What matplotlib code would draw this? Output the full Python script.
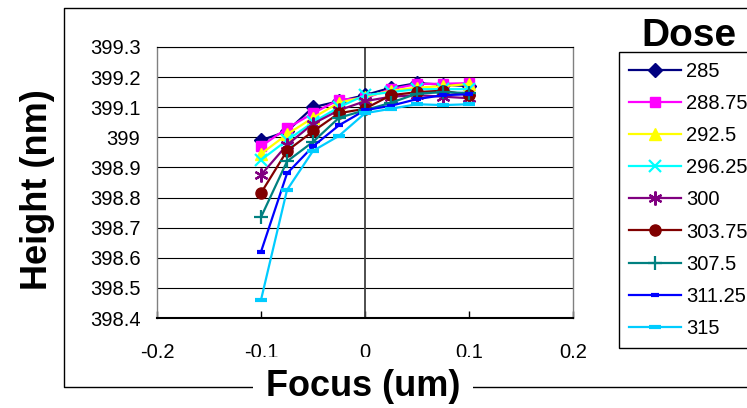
import matplotlib
matplotlib.use("Agg")
import matplotlib.pyplot as plt
from matplotlib.lines import Line2D

plt.rcParams['font.family'] = ['Liberation Sans', 'DejaVu Sans']
plt.rcParams['axes.unicode_minus'] = False

# ---- data ----
focus = [-0.1, -0.075, -0.05, -0.025, 0.0, 0.025, 0.05, 0.075, 0.1]
doses = ["285", "288.75", "292.5", "296.25", "300", "303.75", "307.5", "311.25", "315"]
h_285 = [398.99, 399.02, 399.10, 399.12, 399.14, 399.165, 399.18, 399.175, 399.17]
h_288_75 = [398.97, 399.03, 399.08, 399.125, 399.13, 399.16, 399.177, 399.178, 399.18]
h_292_5 = [398.945, 399.01, 399.065, 399.115, 399.135, 399.155, 399.165, 399.17, 399.177]
h_296_25 = [398.925, 398.99, 399.05, 399.10, 399.14, 399.15, 399.16, 399.16, 399.16]
h_300 = [398.875, 398.975, 399.045, 399.09, 399.12, 399.135, 399.14, 399.135, 399.13]
h_303_75 = [398.815, 398.955, 399.02, 399.08, 399.095, 399.14, 399.15, 399.155, 399.14]
h_307_5 = [398.735, 398.92, 398.985, 399.065, 399.09, 399.115, 399.145, 399.15, 399.147]
h_311_25 = [398.62, 398.88, 398.97, 399.04, 399.09, 399.105, 399.127, 399.14, 399.143]
h_315 = [398.46, 398.825, 398.955, 399.005, 399.08, 399.095, 399.11, 399.107, 399.11]
series = [h_285, h_288_75, h_292_5, h_296_25, h_300, h_303_75, h_307_5, h_311_25, h_315]

xticks = [-0.2, -0.1, 0.0, 0.1, 0.2]
xticklabels = ["-0.2", "-0.1", "0", "0.1", "0.2"]
yticks = [398.4, 398.5, 398.6, 398.7, 398.8, 398.9, 399.0, 399.1, 399.2, 399.3]
yticklabels = ["398.4", "398.5", "398.6", "398.7", "398.8", "398.9", "399", "399.1", "399.2", "399.3"]

# ---- styles ----
styles = [
    dict(color='#000080', marker='D', ms=7),
    dict(color='#FF00FF', marker='s', ms=7.5),
    dict(color='#FFFF00', marker='^', ms=8.5),
    dict(color='#00FFFF', marker='x', ms=8, mew=1.6),
    dict(color='#800080', marker=(6, 2, 0), ms=10, mew=1.6),
    dict(color='#800000', marker='o', ms=8),
    dict(color='#008080', marker='+', ms=10, mew=1.6),
    dict(color='#0000FF', marker='_', ms=6, mew=3),
    dict(color='#00CCFF', marker='_', ms=9, mew=3),
]

W, H = 747, 408
fig = plt.figure(figsize=(W / 100, H / 100), dpi=100)
fig.patch.set_facecolor('white')

ax = fig.add_axes([157 / W, 1 - 318 / H, (573 - 157) / W, (318 - 47) / H])
ax.set_xlim(-0.2, 0.2)
ax.set_ylim(398.4, 399.3)

ax.yaxis.grid(True, color='black', lw=0.8)
ax.set_axisbelow(True)
ax.axvline(0, color='#404040', lw=1.3, zorder=1)

for vals, lab, st in zip(series, doses, styles):
    ax.plot(focus, vals, lw=1.6, label=lab, mec=st['color'], mfc=st['color'], **st)

ax.set_xticks(xticks)
ax.set_xticklabels(xticklabels)
ax.set_yticks(yticks)
ax.set_yticklabels(yticklabels)
ax.tick_params(axis='y', length=0, pad=12, labelsize=14.5)
ax.tick_params(axis='x', direction='in', length=5, width=1, pad=18, labelsize=14.5)

for s in ['left', 'right']:
    ax.spines[s].set_color('#808080')
    ax.spines[s].set_linewidth(1)
ax.spines['top'].set_color('black')
ax.spines['top'].set_linewidth(0.8)
ax.spines['bottom'].set_color('black')
ax.spines['bottom'].set_linewidth(1.5)

# outer chart frame
xl, yt, yb = 64 / W, 1 - 8 / H, 1 - 387 / H
fig.add_artist(Line2D([1.0, xl, xl, 1.0], [yt, yt, yb, yb], transform=fig.transFigure,
                      color='black', lw=1.0, zorder=1))

# axis titles
fig.text(38 / W, 1 - 190 / H, 'Height (nm)', rotation=90, ha='center', va='center',
         fontsize=26, fontweight='bold')
fig.text(363 / W, 1 - 387 / H, 'Focus (um)', ha='center', va='center',
         fontsize=26, fontweight='bold', zorder=5,
         bbox=dict(facecolor='white', edgecolor='none', boxstyle='square,pad=0.35'))

# legend
fig.text(689 / W, 1 - 36 / H, 'Dose', ha='center', va='center', fontsize=28, fontweight='bold')
leg = ax.legend(loc='upper left', bbox_to_anchor=(619 / W, 1 - 52 / H),
                bbox_transform=fig.transFigure, fontsize=14.5, frameon=True,
                fancybox=False, edgecolor='black', framealpha=1, borderpad=0.5,
                labelspacing=0.65, handlelength=2.6, handletextpad=0.25, borderaxespad=0)
leg.get_frame().set_linewidth(1.0)

fig.savefig('out.png', dpi=100, facecolor='white')
